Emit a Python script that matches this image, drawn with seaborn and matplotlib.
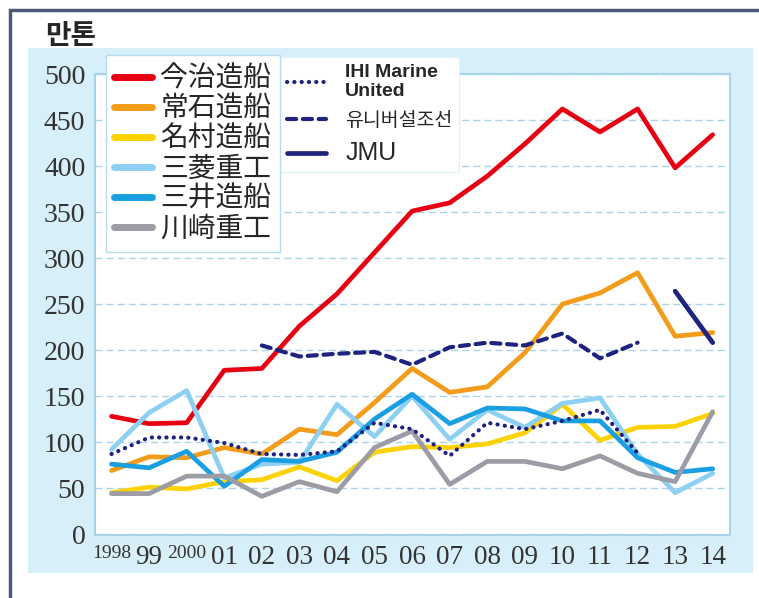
import numpy as np
import pandas as pd
import seaborn as sns
import matplotlib.pyplot as plt
from matplotlib.patches import Rectangle
from matplotlib.ticker import FixedLocator

nan = np.nan

# x categories (1998 - 2014)
year_labels = ['1998', '99', '2000', '01', '02', '03', '04', '05', '06',
               '07', '08', '09', '10', '11', '12', '13', '14']

# 만톤 (10k ton)
imabari   = [128, 120, 121, 178, 180, 226, 261, 306, 351, 360, 389, 424, 462, 437, 462, 398, 434]
tsuneishi = [69, 84, 83, 94, 87, 114, 108, 143, 180, 154, 160, 197, 250, 262, 284, 215, 219]
namura    = [45, 51, 49, 57, 59, 73, 58, 89, 95, 94, 98, 110, 141, 102, 116, 117, 131]
mitsubishi = [92, 132, 156, 61, 76, 78, 141, 106, 150, 103, 135, 116, 142, 148, 87, 45, 66]
mitsui    = [76, 72, 90, 52, 81, 79, 89, 125, 152, 120, 137, 136, 123, 123, 83, 67, 71]
kawasaki  = [44, 44, 63, 63, 41, 57, 46, 94, 112, 54, 79, 79, 71, 85, 66, 57, 133]
ihi       = [87, 105, 105, 99, 87, 86, 90, 121, 114, 85, 121, 114, 123, 135, 88, nan, nan]
universal = [nan, nan, nan, nan, 205, 193, 196, 198, 184, 203, 208, 205, 218, 191, 208, nan, nan]
jmu       = [nan] * 15 + [264, 208]

names = ['今治造船', '常石造船', '名村造船', '三菱重工', '三井造船', '川崎重工',
         'IHI Marine\nUnited', '유니버설조선', 'JMU']
values = [imabari, tsuneishi, namura, mitsubishi, mitsui, kawasaki, ihi, universal, jmu]
colors = ['#e60012', '#f39c1a', '#fcd200', '#8dd0f2', '#1a9fe3', '#9c9ca6',
          '#1f2380', '#1f2380', '#1f2380']
styles = ['-', '-', '-', '-', '-', '-', (0, (0.05, 1.7)), (0, (2.2, 1.6)), '-']

sns.set_style('white')
plt.rcParams['font.family'] = ['Noto Sans CJK JP', 'DejaVu Sans']

W, H = 759, 598
fig = plt.figure(figsize=(W / 100, H / 100), dpi=100)

# light blue panel and outer frame
fig.patches.append(Rectangle((28 / W, 1 - 573 / H), (753 - 28) / W, (573 - 48) / H,
                             transform=fig.transFigure, facecolor='#d6eff9',
                             edgecolor='none', zorder=-1))
fig.patches.append(Rectangle((10 / W, -0.05), 1.0, 1 - 10 / H + 0.05,
                             transform=fig.transFigure, fill=False,
                             edgecolor='#4b5a78', linewidth=2.5))

ax = fig.add_axes([95 / W, 1 - 535 / H, (730 - 95) / W, (535 - 74) / H])
ax.set_facecolor('white')

x = np.arange(len(year_labels))
for name, vals, color, ls in zip(names, values, colors, styles):
    lw = 3.4 if ls == '-' else 3.0
    sns.lineplot(x=x, y=vals, color=color, linewidth=lw, linestyle=ls,
                 dash_capstyle='round', solid_capstyle='round',
                 label=name, ax=ax)

ax.set_xlim(-0.44, 16.46)
ax.set_ylim(-1, 500)
ax.set_yticks(range(0, 501, 50))
ax.set_xticks(x)
ax.set_xticklabels(year_labels)
for t in ax.get_xticklabels():
    t.set_family('Liberation Serif')
    t.set_fontsize(14 if len(t.get_text()) == 4 else 19.5)
for t in ax.get_yticklabels():
    t.set_family('Liberation Serif')
    t.set_fontsize(20)
ax.xaxis.set_minor_locator(FixedLocator(np.arange(0.5, 16, 1)))
ax.tick_params(axis='x', which='minor', direction='in', length=12.5,
               color='#a9d3ea', width=1.2)
ax.tick_params(axis='x', which='major', length=0, pad=7, colors='#333333')
ax.tick_params(axis='y', length=0, pad=7, colors='#333333')
ax.yaxis.grid(True, color='#a9d3ea', linestyle=(0, (5, 3)), linewidth=1)
ax.xaxis.grid(False)
for s in ax.spines.values():
    s.set_color('#a9d3ea')
    s.set_linewidth(1.5)
ax.set_xlabel('')
ax.set_ylabel('')

handles, labels = ax.get_legend_handles_labels()
leg2 = ax.legend(handles[6:], labels[6:], loc='upper left',
                 bbox_to_anchor=(280 / W, 1 - 57 / H), bbox_transform=fig.transFigure,
                 borderaxespad=0, fancybox=False, framealpha=1,
                 edgecolor='#e3f1f8', fontsize=14, handlelength=2.0,
                 handletextpad=1.0, borderpad=0.35, labelspacing=0.5)
leg2.get_frame().set_linewidth(1)
txts = leg2.get_texts()
txts[0].set_family(['Liberation Sans', 'DejaVu Sans'])
txts[0].set_fontweight('bold')
txts[2].set_family(['Liberation Sans Narrow', 'Liberation Sans'])
txts[2].set_fontsize(18)
ax.add_artist(leg2)

leg1 = ax.legend(handles[:6], labels[:6], loc='upper left',
                 bbox_to_anchor=(106 / W, 1 - 55 / H), bbox_transform=fig.transFigure,
                 borderaxespad=0, fancybox=False, framealpha=1,
                 edgecolor='#b5dcef', fontsize=20, handlelength=1.35,
                 handletextpad=0.3, borderpad=0.3, labelspacing=0.0)
leg1.get_frame().set_linewidth(1)
for ln in leg1.get_lines():
    ln.set_linewidth(5)

fig.text(45 / W, 1 - 36 / H, '만톤', fontsize=20, fontweight='bold',
         family=['Noto Sans CJK KR', 'DejaVu Sans'], va='center', ha='left')

fig.savefig('out.png', dpi=100)
